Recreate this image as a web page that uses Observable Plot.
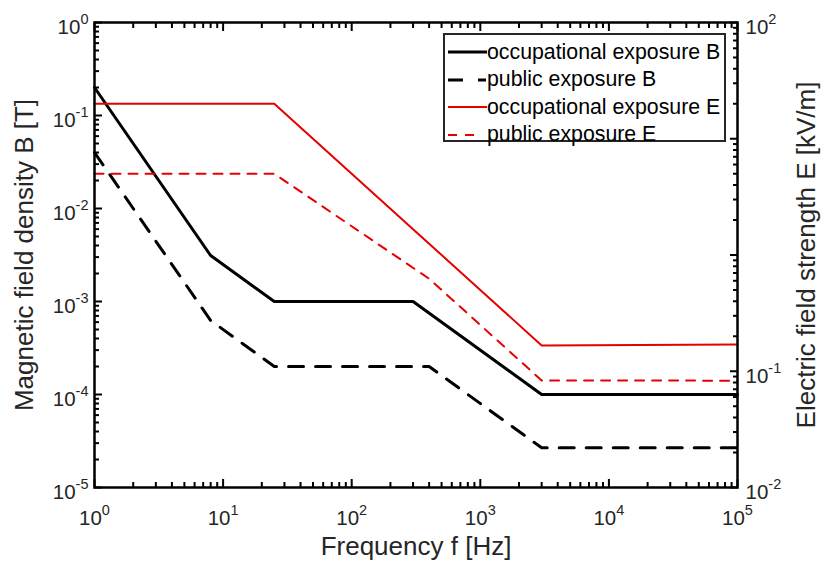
<!DOCTYPE html>
<html>
<head>
<meta charset="utf-8">
<script src="https://cdn.jsdelivr.net/npm/d3@7"></script>
<script src="https://cdn.jsdelivr.net/npm/@observablehq/plot@0.6"></script>
<style>
  html, body { margin: 0; padding: 0; background: #fff; }
  #wrap { position: relative; width: 824px; height: 564px; font-family: Arial, "Liberation Sans", sans-serif; }
  #legend { position: absolute; left: 443px; top: 33px; width: 283px; height: 109px; box-sizing: border-box;
            border: 2px solid #262626; background: #fff; }
  .row { position: absolute; left: 0; height: 24px; display: flex; align-items: center; }
  .row svg { margin-left: 2px; }
  .row span { font-size: 21.3px; color: #000; white-space: nowrap; margin-left: 0px; }
</style>
</head>
<body>
<div id="wrap"></div>
<script>
// ---- data ----
const freqOccB = [1, 8, 25, 300, 3000, 100000];
const occB     = [0.2, 0.003125, 0.001, 0.001, 0.0001, 0.0001];          // T
const freqPubB = [1, 8, 25, 400, 3000, 100000];
const pubB     = [0.04, 0.000625, 0.0002, 0.0002, 0.0000267, 0.0000267];  // T
const freqOccE = [1, 8, 25, 300, 3000, 100000];
const occE     = [20, 20, 20, 1.667, 0.1667, 0.17];                      // kV/m
const freqPubE = [1, 8, 25, 400, 3000, 100000];
const pubE     = [5, 5, 5, 0.625, 0.0833, 0.083];                        // kV/m

const xTickExp = [0, 1, 2, 3, 4, 5];
const bTickExp = [-5, -4, -3, -2, -1, 0];
const eTickExp = [-2, -1, 0, 1, 2];
const minorMult = [2, 3, 4, 5, 6, 7, 8, 9];

const seriesNames = ["occupational exposure B", "public exposure B", "occupational exposure E", "public exposure E"];
const xTitle = "Frequency f [Hz]";
const yLeftTitle = "Magnetic field density B [T]";
const yRightTitle = "Electric field strength E [kV/m]";

// ---- right axis (E, 1e-2..1e2) mapped onto the left axis domain (B, 1e-5..1e0) ----
const eDom = [1e-2, 1e2], bDom = [1e-5, 1];
const eToB = e => 10 ** (Math.log10(bDom[0]) + (Math.log10(e) - Math.log10(eDom[0])) *
  (Math.log10(bDom[1]) - Math.log10(bDom[0])) / (Math.log10(eDom[1]) - Math.log10(eDom[0])));
const bToEexp = b => Math.round(Math.log10(eDom[0]) + (Math.log10(b) - Math.log10(bDom[0])) *
  (Math.log10(eDom[1]) - Math.log10(eDom[0])) / (Math.log10(bDom[1]) - Math.log10(bDom[0])));

const xMajor = xTickExp.map(e => 10 ** e);
const xMinor = xTickExp.slice(0, -1).flatMap(e => minorMult.map(m => m * 10 ** e));
const bMajor = bTickExp.map(e => 10 ** e);
const bMinor = bTickExp.slice(0, -1).flatMap(e => minorMult.map(m => m * 10 ** e));
const eMajor = eTickExp.map(e => eToB(10 ** e));
const eMinor = eTickExp.slice(0, -1).flatMap(e => minorMult.map(m => eToB(m * 10 ** e)));

const styles = [
  {stroke: "#000", strokeWidth: 3, dash: null, sample: 40},
  {stroke: "#000", strokeWidth: 3, dash: "15,15", sample: 39},
  {stroke: "#e60000", strokeWidth: 2, dash: null, sample: 40},
  {stroke: "#e60000", strokeWidth: 2, dash: "9,8", sample: 27}
];

const axisColor = "#000";
const textColor = "#262626";

const chart = Plot.plot({
  width: 824, height: 564,
  marginLeft: 94, marginRight: 87, marginTop: 22, marginBottom: 77,
  x: {type: "log", domain: [1, 1e5]},
  y: {type: "log", domain: bDom},
  style: {fontFamily: "Arial, 'Liberation Sans', sans-serif", color: textColor, background: "#fff", overflow: "visible"},
  marks: [
    Plot.line(occB, {x: freqOccB, y: occB, stroke: styles[0].stroke, strokeWidth: styles[0].strokeWidth}),
    Plot.line(pubB, {x: freqPubB, y: pubB, stroke: styles[1].stroke, strokeWidth: styles[1].strokeWidth, strokeDasharray: "15,12"}),
    Plot.line(occE, {x: freqOccE, y: occE.map(eToB), stroke: styles[2].stroke, strokeWidth: styles[2].strokeWidth}),
    Plot.line(pubE, {x: freqPubE, y: pubE.map(eToB), stroke: styles[3].stroke, strokeWidth: styles[3].strokeWidth, strokeDasharray: styles[3].dash}),
    // ticks (inward)
    Plot.axisX({anchor: "bottom", ticks: xMajor, tickSize: -8, fill: "none", stroke: axisColor, strokeWidth: 2, label: null}),
    Plot.axisX({anchor: "bottom", ticks: xMinor, tickSize: -5, fill: "none", stroke: axisColor, strokeWidth: 2, label: null}),
    Plot.axisX({anchor: "top", ticks: xMajor, tickSize: -8, fill: "none", stroke: axisColor, strokeWidth: 2, label: null}),
    Plot.axisX({anchor: "top", ticks: xMinor, tickSize: -5, fill: "none", stroke: axisColor, strokeWidth: 2, label: null}),
    Plot.axisY({anchor: "left", ticks: bMajor, tickSize: -8, fill: "none", stroke: axisColor, strokeWidth: 2, label: null}),
    Plot.axisY({anchor: "left", ticks: bMinor, tickSize: -5, fill: "none", stroke: axisColor, strokeWidth: 2, label: null}),
    Plot.axisY({anchor: "right", ticks: eMajor, tickSize: -8, fill: "none", stroke: axisColor, strokeWidth: 2, label: null}),
    Plot.axisY({anchor: "right", ticks: eMinor, tickSize: -5, fill: "none", stroke: axisColor, strokeWidth: 2, label: null}),
    // tick labels
    Plot.axisX({anchor: "bottom", ticks: xMajor, tickSize: 0, tickPadding: 23, fontSize: 20.5, fill: textColor,
                tickFormat: d => "10^" + Math.round(Math.log10(d)), label: null}),
    Plot.axisY({anchor: "left", ticks: bMajor, tickSize: 0, tickPadding: 6, fontSize: 20.5, fill: textColor, dy: 5,
                tickFormat: d => "10^" + Math.round(Math.log10(d)), label: null}),
    Plot.axisY({anchor: "right", ticks: eMajor, tickSize: 0, tickPadding: 8, fontSize: 20.5, fill: textColor, dy: 5,
                tickFormat: d => "10^" + bToEexp(d), label: null}),
    // titles
    Plot.text([xTitle], {text: d => d, frameAnchor: "bottom", textAnchor: "middle", lineAnchor: "middle", dy: 59, fontSize: 26, fill: textColor}),
    Plot.text([yLeftTitle], {text: d => d, frameAnchor: "left", textAnchor: "middle", lineAnchor: "middle", dx: -70, rotate: -90, fontSize: 26, fill: textColor}),
    Plot.text([yRightTitle], {text: d => d, frameAnchor: "right", textAnchor: "middle", lineAnchor: "middle", dx: 69, rotate: -90, fontSize: 26, fill: textColor}),
    Plot.frame({stroke: axisColor, strokeWidth: 2.5})
  ]
});

// superscript exponents in tick labels
d3.select(chart).selectAll('g[aria-label$="tick label"] text').each(function () {
  const m = this.textContent.match(/^10\^(.+)$/);
  if (!m) return;
  const t = d3.select(this);
  t.text(null);
  t.append("tspan").text("10");
  t.append("tspan").attr("dy", -10).attr("font-size", 14.5).text(m[1]);
});

const wrap = document.getElementById("wrap");
wrap.appendChild(chart);

// legend
const legend = document.createElement("div");
legend.id = "legend";
seriesNames.forEach((name, i) => {
  const row = document.createElement("div");
  row.className = "row";
  row.style.top = (5 + i * 27.5) + "px";
  const s = styles[i];
  row.innerHTML = `<svg width="40" height="24"><line x1="1" y1="12" x2="${s.sample}" y2="12" stroke="${s.stroke}" stroke-width="${s.strokeWidth}" ${s.dash ? `stroke-dasharray="${s.dash}"` : ""}/></svg><span>${name}</span>`;
  legend.appendChild(row);
});
wrap.appendChild(legend);
</script>
</body>
</html>
